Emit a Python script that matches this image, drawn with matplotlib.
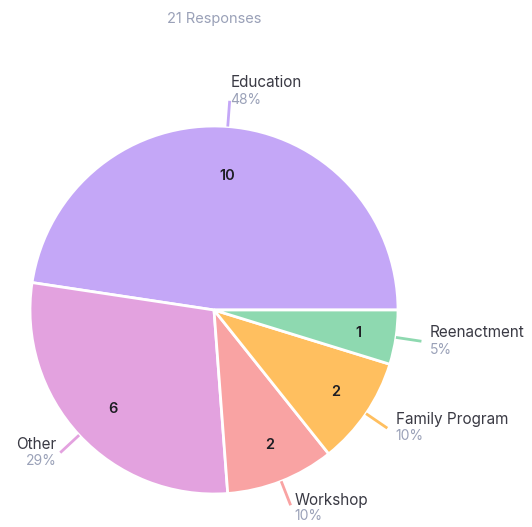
import matplotlib
matplotlib.use("Agg")
import matplotlib.pyplot as plt
import numpy as np

categories = ["Education", "Other", "Workshop", "Family Program", "Reenactment"]
counts = [10, 6, 2, 2, 1]
percent_labels = ["48%", "29%", "10%", "10%", "5%"]
colors = ["#c4a7f7", "#e3a2df", "#f9a3a3", "#ffbf5f", "#8ed9b0"]
title = "21 Responses"

plt.rcParams['font.family'] = ['Inter', 'DejaVu Sans']

fig = plt.figure(figsize=(5.32, 5.27), dpi=100)
ax = fig.add_axes([0, 0, 1, 1])
R = 184.0
cx, cy = 214.0, 310.0

wedges, _ = ax.pie(counts, colors=colors, startangle=0, counterclock=True,
                   radius=1.0, center=(0, 0), frame=True,
                   wedgeprops=dict(edgecolor='white', linewidth=2))
ax.set_xlim(-cx / R, (532 - cx) / R)
ax.set_ylim(-(527 - cy) / R, cy / R)
ax.axis('off')

for w, cat, n, pct, col in zip(wedges, categories, counts, percent_labels, colors):
    mid = np.deg2rad((w.theta1 + w.theta2) / 2)
    cs, sn = np.cos(mid), np.sin(mid)
    rin = 0.74 if sn > 0.9 else 0.775
    ax.text(rin * cs + 0.018, rin * sn - 0.01, str(n), ha='center', va='center',
            fontsize=10.5, color='#1e1e24', fontweight='semibold')
    ax.plot([1.0 * cs, 1.14 * cs], [1.0 * sn, 1.14 * sn], color=col, lw=2,
            solid_capstyle='butt')
    ex, ey = 1.14 * cs, 1.14 * sn
    if cs >= 0:
        ha = 'left'
        dx = 0.045
    else:
        ha = 'right'
        dx = -0.02
    if sn > 0.5:
        ny, py = ey + 0.098, ey + 0.005
        dx = 0.005
    elif sn < -0.8:
        ny, py = ey + 0.027, ey - 0.06
        dx = 0.02
    else:
        ny, py = ey + 0.045, ey - 0.045
    ax.text(ex + dx, ny, cat, ha=ha, va='center', fontsize=11, color='#3a3a44')
    ax.text(ex + dx, py, pct, ha=ha, va='center', fontsize=10, color='#9aa1b8')

fig.text(214 / 532, 1 - 19 / 527, title, ha='center', va='center',
         fontsize=10.5, color='#9aa1b8')

fig.savefig("out.png", dpi=100)
